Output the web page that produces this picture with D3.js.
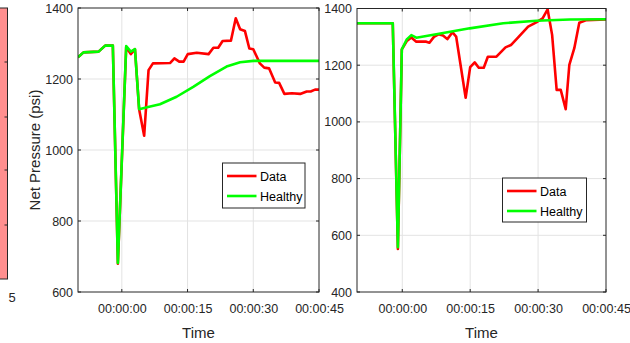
<!DOCTYPE html>
<html><head><meta charset="utf-8">
<script src="https://cdn.jsdelivr.net/npm/d3@7"></script>
<style>
html,body{margin:0;padding:0;background:#fff;}
svg{display:block;font-family:"Liberation Sans",Arial,sans-serif;}
</style></head>
<body><svg id="c" width="630" height="343"></svg>
<script>
// ---------- data ----------
const xTickSeconds = [0, 15, 30, 45];
const leftYTicks = [600, 800, 1000, 1200, 1400];
const rightYTicks = [400, 600, 800, 1000, 1200, 1400];
const stripTicks = [62, 117, 170, 225];

// Panel 1
const p1HealthyT = [-10, -8.75, -5.3, -3.8, -2.05, -0.9, 1.0, 2.05, 3.0, 3.95, 6, 8.7, 12.5, 16.3, 20.1, 23.9, 27, 30, 45];
const p1HealthyV = [1261, 1275, 1277, 1294, 1294, 682, 1293, 1277, 1284, 1115, 1121, 1129, 1150, 1178, 1208, 1235, 1247, 1251, 1251];
const p1DataT = [-10, -8.75, -5.3, -3.8, -2.05, -0.9, 1.0, 2.05, 3.0, 3.95, 5.1, 6.1, 7.1, 11, 12, 13.1, 14.1, 15.05, 17.1, 19.8, 20.9, 22, 23, 24.9, 26, 27, 28.1, 29.1, 30, 31.5, 32.5, 33.6, 35, 35.9, 37.1, 38.8, 40.7, 42.2, 43.1, 44.1, 45];
const p1DataV = [1261, 1275, 1277, 1294, 1294, 680, 1290, 1270, 1284, 1115, 1040, 1225, 1244, 1245, 1258, 1249, 1249, 1270, 1274, 1270, 1288, 1288, 1307, 1308, 1371, 1340, 1335, 1286, 1284, 1244, 1232, 1230, 1190, 1189, 1158, 1160, 1158, 1165, 1165, 1170, 1170];

// Panel 2
const p2HealthyT = [-10, -2.1, -0.97, -0.1, 1.0, 2.0, 3.1, 7.5, 14.9, 22.3, 29.6, 37, 45];
const p2HealthyV = [1348, 1348, 558, 1256, 1291, 1306, 1297, 1309, 1330, 1348, 1357, 1361, 1362];
const p2DataT = [-10, -2.1, -0.97, -0.1, 1.0, 2.0, 3.1, 5.3, 6.0, 7.0, 8.0, 9.0, 9.95, 11.1, 11.9, 14.0, 15.0, 16, 16.9, 18, 18.9, 20.8, 22.8, 24.0, 25.6, 27.8, 29.6, 31, 32.1, 33.1, 34.1, 35, 36.1, 36.9, 38, 39.1, 40.7, 45];
const p2DataV = [1348, 1348, 552, 1256, 1285, 1298, 1283, 1283, 1279, 1300, 1309, 1305, 1292, 1316, 1301, 1085, 1193, 1210, 1191, 1191, 1230, 1230, 1263, 1271, 1298, 1336, 1351, 1365, 1397, 1307, 1113, 1113, 1045, 1201, 1260, 1350, 1359, 1361];

const seriesNames = ["Data", "Healthy"];
const seriesColors = ["#ff0000", "#00ff00"];

// ---------- drawing ----------
const svg = d3.select("#c");
const ink = "#262626";

// left cropped strip (neighbouring panel)
svg.append("rect").attr("x", -2).attr("y", 8).attr("width", 9.5).attr("height", 271)
  .attr("fill", "#ff8f8f").attr("stroke", ink).attr("stroke-width", 1);
stripTicks.forEach(y => svg.append("line").attr("x1", 4.5).attr("x2", 7.5).attr("y1", y).attr("y2", y)
  .attr("stroke", ink).attr("stroke-width", 1));
svg.append("text").attr("x", 12).attr("y", 302).attr("text-anchor", "middle")
  .attr("font-size", 13).attr("fill", ink).text("5");

function fmtTime(s) {
  const p = n => String(n).padStart(2, "0");
  const h = Math.floor(s / 3600), m = Math.floor((s % 3600) / 60), sec = Math.round(s % 60);
  return `${p(h)}:${p(m)}:${p(sec)}`;
}

function panel(cfg) {
  const {x0, x1, y0, y1, yDomain, yTicks, dataT, dataV, healthyT, healthyV, legend, yLabel} = cfg;
  const x = d3.scaleLinear().domain([-10, 45]).range([x0, x1]);
  const y = d3.scaleLinear().domain(yDomain).range([y1, y0]);
  const g = svg.append("g");

  // grid
  g.selectAll(".gx").data(xTickSeconds.filter(t => t < 45)).join("line")
    .attr("x1", d => x(d)).attr("x2", d => x(d)).attr("y1", y0).attr("y2", y1)
    .attr("stroke", "#e3e3e3").attr("stroke-width", 1);
  g.selectAll(".gy").data(yTicks.filter(t => t > yDomain[0] && t < yDomain[1])).join("line")
    .attr("x1", x0).attr("x2", x1).attr("y1", d => y(d)).attr("y2", d => y(d))
    .attr("stroke", "#e3e3e3").attr("stroke-width", 1);

  // lines
  const line = d3.line().x(d => x(d[0])).y(d => y(d[1]));
  const dataPts = dataT.map((t, i) => [t, dataV[i]]);
  const healthyPts = healthyT.map((t, i) => [t, healthyV[i]]);
  const clipId = "clip" + x0;
  svg.append("clipPath").attr("id", clipId).append("rect")
    .attr("x", x0).attr("y", y0 - 2).attr("width", x1 - x0).attr("height", y1 - y0 + 4);
  g.append("path").datum(dataPts).attr("d", line).attr("fill", "none")
    .attr("stroke", seriesColors[0]).attr("stroke-width", 2.6).attr("stroke-linejoin", "round")
    .attr("clip-path", `url(#${clipId})`);
  g.append("path").datum(healthyPts).attr("d", line).attr("fill", "none")
    .attr("stroke", seriesColors[1]).attr("stroke-width", 2.6).attr("stroke-linejoin", "round")
    .attr("clip-path", `url(#${clipId})`);

  // axes
  const axB = d3.axisBottom(x).tickValues(xTickSeconds).tickSize(0).tickPadding(12).tickFormat(fmtTime);
  const gb = g.append("g").attr("transform", `translate(0,${y1})`).call(axB);
  gb.select(".domain").remove();
  gb.selectAll("text").attr("font-size", 12.5).attr("fill", ink).attr("font-family", "Liberation Sans, Arial, sans-serif");

  const axL = d3.axisLeft(y).tickValues(yTicks).tickSize(0).tickPadding(5).tickFormat(d3.format("d"));
  const gl = g.append("g").attr("transform", `translate(${x0},0)`).call(axL);
  gl.select(".domain").remove();
  gl.selectAll("text").attr("font-size", 12.5).attr("fill", ink).attr("font-family", "Liberation Sans, Arial, sans-serif");

  // inward ticks on all sides
  xTickSeconds.forEach(t => {
    g.append("line").attr("x1", x(t)).attr("x2", x(t)).attr("y1", y1).attr("y2", y1 - 3).attr("stroke", ink);
    g.append("line").attr("x1", x(t)).attr("x2", x(t)).attr("y1", y0).attr("y2", y0 + 3).attr("stroke", ink);
  });
  yTicks.forEach(v => {
    g.append("line").attr("x1", x0).attr("x2", x0 + 3).attr("y1", y(v)).attr("y2", y(v)).attr("stroke", ink);
    g.append("line").attr("x1", x1).attr("x2", x1 - 3).attr("y1", y(v)).attr("y2", y(v)).attr("stroke", ink);
  });
  g.append("rect").attr("x", x0).attr("y", y0).attr("width", x1 - x0).attr("height", y1 - y0)
    .attr("fill", "none").attr("stroke", ink).attr("stroke-width", 1);

  // axis labels
  g.append("text").attr("x", (x0 + x1) / 2).attr("y", 338).attr("text-anchor", "middle")
    .attr("font-size", 15).attr("fill", ink).text("Time");
  if (yLabel) {
    g.append("text").attr("transform", `translate(40,${(y0 + y1) / 2}) rotate(-90)`)
      .attr("text-anchor", "middle").attr("font-size", 15).attr("fill", ink).text(yLabel);
  }

  // legend
  const lg = g.append("g");
  lg.append("rect").attr("x", legend.x).attr("y", legend.y).attr("width", legend.w).attr("height", legend.h)
    .attr("fill", "#fff").attr("stroke", ink).attr("stroke-width", 1);
  seriesNames.forEach((name, i) => {
    const yy = legend.y + 13 + i * 20;
    lg.append("line").attr("x1", legend.x + 4.5).attr("x2", legend.x + 34).attr("y1", yy).attr("y2", yy)
      .attr("stroke", seriesColors[i]).attr("stroke-width", 2.6);
    lg.append("text").attr("x", legend.x + 37.5).attr("y", yy + 4.5).attr("font-size", 12.5)
      .attr("fill", "#000").text(name);
  });
}

panel({x0: 78, x1: 319, y0: 8, y1: 292, yDomain: [600, 1400], yTicks: leftYTicks,
  dataT: p1DataT, dataV: p1DataV, healthyT: p1HealthyT, healthyV: p1HealthyV,
  legend: {x: 222.5, y: 163, w: 82.5, h: 45}, yLabel: "Net Pressure (psi)"});
panel({x0: 357, x1: 606, y0: 8.5, y1: 292, yDomain: [400, 1400], yTicks: rightYTicks,
  dataT: p2DataT, dataV: p2DataV, healthyT: p2HealthyT, healthyV: p2HealthyV,
  legend: {x: 502.5, y: 178, w: 84, h: 44}, yLabel: null});
</script></body></html>
